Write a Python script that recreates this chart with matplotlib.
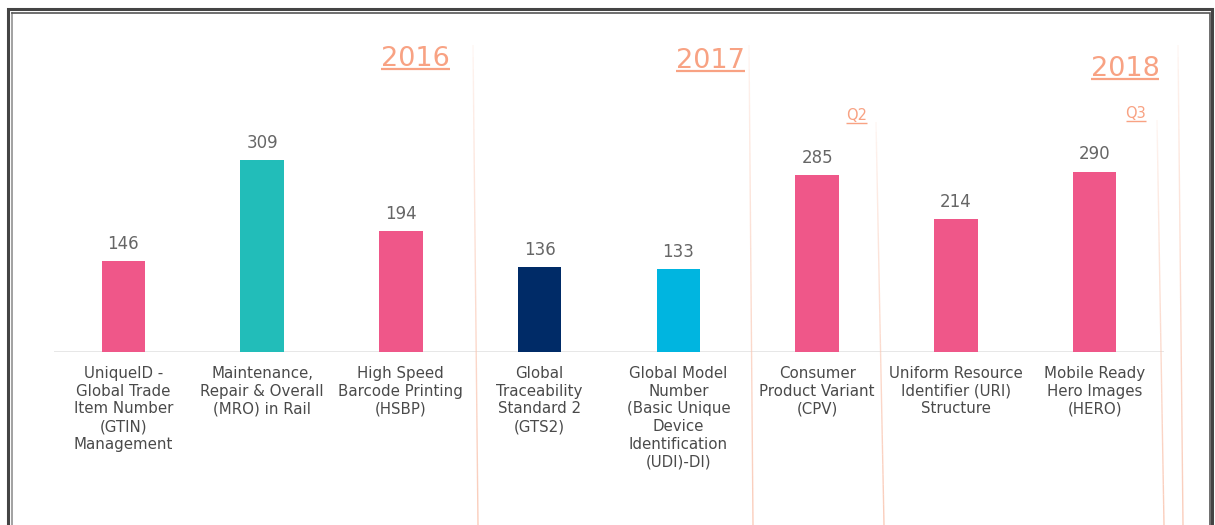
import matplotlib
matplotlib.use("Agg")
import matplotlib.pyplot as plt
import numpy as np
from matplotlib.collections import LineCollection

# ---- data ----
categories = [
    "UniqueID -\nGlobal Trade\nItem Number\n(GTIN)\nManagement",
    "Maintenance,\nRepair & Overall\n(MRO) in Rail",
    "High Speed\nBarcode Printing\n(HSBP)",
    "Global\nTraceability\nStandard 2\n(GTS2)",
    "Global Model\nNumber\n(Basic Unique\nDevice\nIdentification\n(UDI)-DI)",
    "Consumer\nProduct Variant\n(CPV)",
    "Uniform Resource\nIdentifier (URI)\nStructure",
    "Mobile Ready\nHero Images\n(HERO)",
]
values = [146, 309, 194, 136, 133, 285, 214, 290]
bar_colors = ["#EF5789", "#22BDB9", "#EF5789", "#002B67", "#00B5E0",
              "#EF5789", "#EF5789", "#EF5789"]
period_labels = ["2016", "2017", "2018", "Q2", "Q3"]

W, H = 1215, 525
fig = plt.figure(figsize=(W / 100, H / 100), dpi=100)
plt.rcParams['font.family'] = ['DejaVu Sans']

# main axes: x from 54 to 1164 px, baseline at y=352, top at y=45
left, right, base, top = 54, 1164, 352, 45
ax = fig.add_axes([left / W, (H - base) / H, (right - left) / W, (base - top) / H])
scale = 192 / 309.0
ax.set_xlim(-0.5, len(values) - 0.5)
ax.set_ylim(0, (base - top) / scale)
x = np.arange(len(values))
ax.bar(x, values, width=0.315, color=bar_colors, zorder=2)
for s in ax.spines.values():
    s.set_visible(False)
ax.axhline(0, color="#E3E3E3", lw=1.2, zorder=1)
ax.set_xticks([])
ax.set_yticks([])
ax.patch.set_alpha(0)

for xi, v in zip(x, values):
    ax.annotate(str(v), (xi, v), xytext=(0, 6), textcoords="offset points",
                ha="center", va="bottom", fontsize=12, color="#666666")
for xi, c in zip(x, categories):
    ax.annotate(c, (xi, 0), xytext=(0, -10), textcoords="offset points",
                ha="center", va="top", fontsize=10.8, color="#4A4A4A",
                multialignment="center", linespacing=1.23, annotation_clip=False)

# overlay axes in pixel coordinates for decorations
ov = fig.add_axes([0, 0, 1, 1], zorder=5)
ov.set_xlim(0, W)
ov.set_ylim(H, 0)
ov.axis("off")
ov.patch.set_alpha(0)

# separator lines (fade toward top)
seps = [((473, 45), (478, 525)), ((749, 45), (753, 525)),
        ((876, 122), (884, 525)), ((1157, 120), (1164, 525)),
        ((1178, 45), (1183, 525))]
for (x0, y0), (x1, y1) in seps:
    n = 40
    ts = np.linspace(0, 1, n + 1)
    pts = np.column_stack([x0 + (x1 - x0) * ts, y0 + (y1 - y0) * ts])
    segs = np.stack([pts[:-1], pts[1:]], axis=1)
    alphas = 0.15 + 0.75 * ts[:-1] ** 0.7
    cols = [(0.98, 0.78, 0.70, a) for a in alphas]
    ov.add_collection(LineCollection(segs, colors=cols, linewidths=1.0))

# period labels with underline
salmon = "#F8A283"
specs = [  # (label, x center, baseline y, fontsize, underline gap)
    (period_labels[0], 415.5, 66, 19.5, 3.3, 1.6),
    (period_labels[1], 710.5, 67.5, 19.5, 3.5, 1.6),
    (period_labels[2], 1125, 75.5, 19.5, 3.5, 1.6),
    (period_labels[3], 856.5, 119.5, 10.5, 3.0, 1.0),
    (period_labels[4], 1136, 117.5, 10.5, 3.0, 1.0),
]
texts = []
for lab, cx, by, fs, gap, lw in specs:
    t = ov.text(cx, by, lab, ha="center", va="baseline", fontsize=fs, color=salmon)
    texts.append((t, by, gap, lw))

fig.canvas.draw()
inv = ov.transData.inverted()
for t, by, gap, lw in texts:
    bb = t.get_window_extent()
    (xa, _), (xb, _) = inv.transform([(bb.x0, bb.y0), (bb.x1, bb.y0)])
    ov.plot([xa, xb], [by + gap, by + gap], color=salmon, lw=lw, solid_capstyle="butt")

# frame (double border, open at bottom)
dark = "#444444"
ov.plot([8, 8, 1212, 1212], [H + 5, 8.5, 8.5, H + 5], color=dark, lw=2.2,
        solid_joinstyle="miter")
ov.plot([12, 12], [H + 5, 13], color="#9A9A9A", lw=1.3)
ov.plot([12, 1209.5, 1209.5], [13, 13, H + 5], color="#555555", lw=1.2,
        solid_joinstyle="miter")

fig.savefig("out.png", dpi=100)
